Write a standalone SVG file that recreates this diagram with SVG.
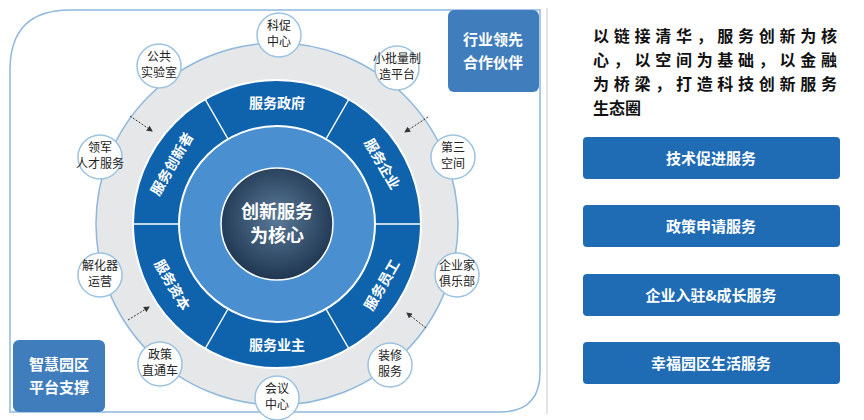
<svg xmlns="http://www.w3.org/2000/svg" width="864" height="420" viewBox="0 0 864 420">
<defs>
<style>
text{font-family:"Noto Sans CJK SC","Liberation Sans",sans-serif;text-anchor:middle}
.n circle{fill:#fff;stroke:#9cc3e0;stroke-width:1.5}
.n text{font-size:12px;fill:#222}
.seg{font-size:14px;font-weight:bold;fill:#fff}
.btn rect{fill:#1f6cb5}
.btn text{font-size:15px;font-weight:bold;fill:#fff}
.box{fill:#3f7dbd}
.boxt{font-size:15px;font-weight:bold;fill:#fff}
#intro text{text-anchor:start;font-size:16px;font-weight:bold;fill:#111}
</style>
<marker id="a" markerWidth="6" markerHeight="6" refX="5" refY="3" orient="auto"><path d="M0,0L6,3L0,6z" fill="#333"/></marker>
<radialGradient id="core" cx="50%" cy="45%" r="55%"><stop offset="0" stop-color="#5a7a98"/><stop offset="1" stop-color="#1f3650"/></radialGradient>
</defs>
<rect width="864" height="420" fill="#fff"/>
<path d="M70,10H540V372Q540,412 500,412H10V70Q10,10 70,10Z" fill="#fff" stroke="#8fb8dc" stroke-width="1.5"/>
<line x1="547" y1="8" x2="547" y2="414" stroke="#c8c8c8"/>
<g id="rings">
<circle cx="277" cy="224" r="181" fill="#e6e7e9" stroke="#8fb8dc" stroke-width="1.5"/>
<circle cx="277" cy="224" r="144" fill="#0f63ad" stroke="#fff" stroke-width="2"/>
<circle cx="277" cy="224" r="98" fill="#4a90d0" stroke="#fff" stroke-width="2"/>
<circle cx="277" cy="224" r="56" fill="url(#core)" stroke="#fff" stroke-width="1.5"/>
<g stroke="#fff" stroke-width="1.5">
<line x1="375" y1="224" x2="421" y2="224"/><line x1="179" y1="224" x2="133" y2="224"/>
<line x1="326" y1="139" x2="349" y2="99"/><line x1="228" y1="139" x2="205" y2="99"/>
<line x1="326" y1="309" x2="349" y2="349"/><line x1="228" y1="309" x2="205" y2="349"/>
</g>
<text class="seg" x="277" y="108">服务政府</text>
<text class="seg" transform="translate(382,164) rotate(60)" dy="5">服务企业</text>
<text class="seg" transform="translate(382,285) rotate(-60)" dy="5">服务员工</text>
<text class="seg" x="277" y="350">服务业主</text>
<text class="seg" transform="translate(172,285) rotate(60)" dy="5">服务资本</text>
<text class="seg" transform="translate(172,164) rotate(-60)" dy="5">服务创新者</text>
<text x="277" y="218" font-size="18" font-weight="bold" fill="#fff">创新服务</text>
<text x="277" y="242" font-size="18" font-weight="bold" fill="#fff">为核心</text>
</g>
<g id="connectors" stroke="#333" stroke-dasharray="2,1.5" stroke-width="1" marker-end="url(#a)">
<line x1="130" y1="116" x2="152" y2="131"/>
<line x1="428" y1="117" x2="405" y2="132"/>
<line x1="128" y1="320" x2="149" y2="307"/>
<line x1="426" y1="328" x2="407" y2="313"/>
</g>
<g id="n1" class="n"><circle cx="279" cy="35" r="22"/><text x="279" y="30">科促</text><text x="279" y="46">中心</text></g>
<g id="n2" class="n"><circle cx="159" cy="66" r="22"/><text x="159" y="61">公共</text><text x="159" y="77">实验室</text></g>
<g id="n3" class="n"><circle cx="397" cy="68" r="22"/><text x="397" y="63">小批量制</text><text x="397" y="79">造平台</text></g>
<g id="n4" class="n"><circle cx="100" cy="157" r="22"/><text x="100" y="152">领军</text><text x="100" y="168">人才服务</text></g>
<g id="n5" class="n"><circle cx="453" cy="157" r="22"/><text x="453" y="152">第三</text><text x="453" y="168">空间</text></g>
<g id="n6" class="n"><circle cx="100" cy="275" r="22"/><text x="100" y="270">解化器</text><text x="100" y="286">运营</text></g>
<g id="n7" class="n"><circle cx="457" cy="275" r="22"/><text x="457" y="270">企业家</text><text x="457" y="286">俱乐部</text></g>
<g id="n8" class="n"><circle cx="160" cy="364" r="22"/><text x="160" y="359">政策</text><text x="160" y="375">直通车</text></g>
<g id="n9" class="n"><circle cx="390" cy="365" r="22"/><text x="390" y="360">装修</text><text x="390" y="376">服务</text></g>
<g id="n10" class="n"><circle cx="277" cy="398" r="22"/><text x="277" y="393">会议</text><text x="277" y="409">中心</text></g>
<g id="b1"><rect class="box" x="448" y="10" width="91" height="82" rx="6"/><text class="boxt" x="493" y="45">行业领先</text><text class="boxt" x="493" y="68">合作伙伴</text></g>
<g id="b2"><rect class="box" x="13" y="340" width="92" height="72" rx="6"/><text class="boxt" x="59" y="370">智慧园区</text><text class="boxt" x="59" y="393">平台支撑</text></g>
<g id="intro">
<text x="593" y="42" textLength="244">以链接清华，服务创新为核</text>
<text x="593" y="66" textLength="244">心，以空间为基础，以金融</text>
<text x="593" y="90" textLength="244">为桥梁，打造科技创新服务</text>
<text x="593" y="114">生态圈</text>
</g>
<g id="s1" class="btn"><rect x="583" y="137" width="257" height="42" rx="4"/><text x="711" y="164">技术促进服务</text></g>
<g id="s2" class="btn"><rect x="583" y="205" width="257" height="42" rx="4"/><text x="711" y="232">政策申请服务</text></g>
<g id="s3" class="btn"><rect x="583" y="274" width="257" height="42" rx="4"/><text x="711" y="301">企业入驻&amp;成长服务</text></g>
<g id="s4" class="btn"><rect x="583" y="342" width="257" height="42" rx="4"/><text x="711" y="369">幸福园区生活服务</text></g>
</svg>
